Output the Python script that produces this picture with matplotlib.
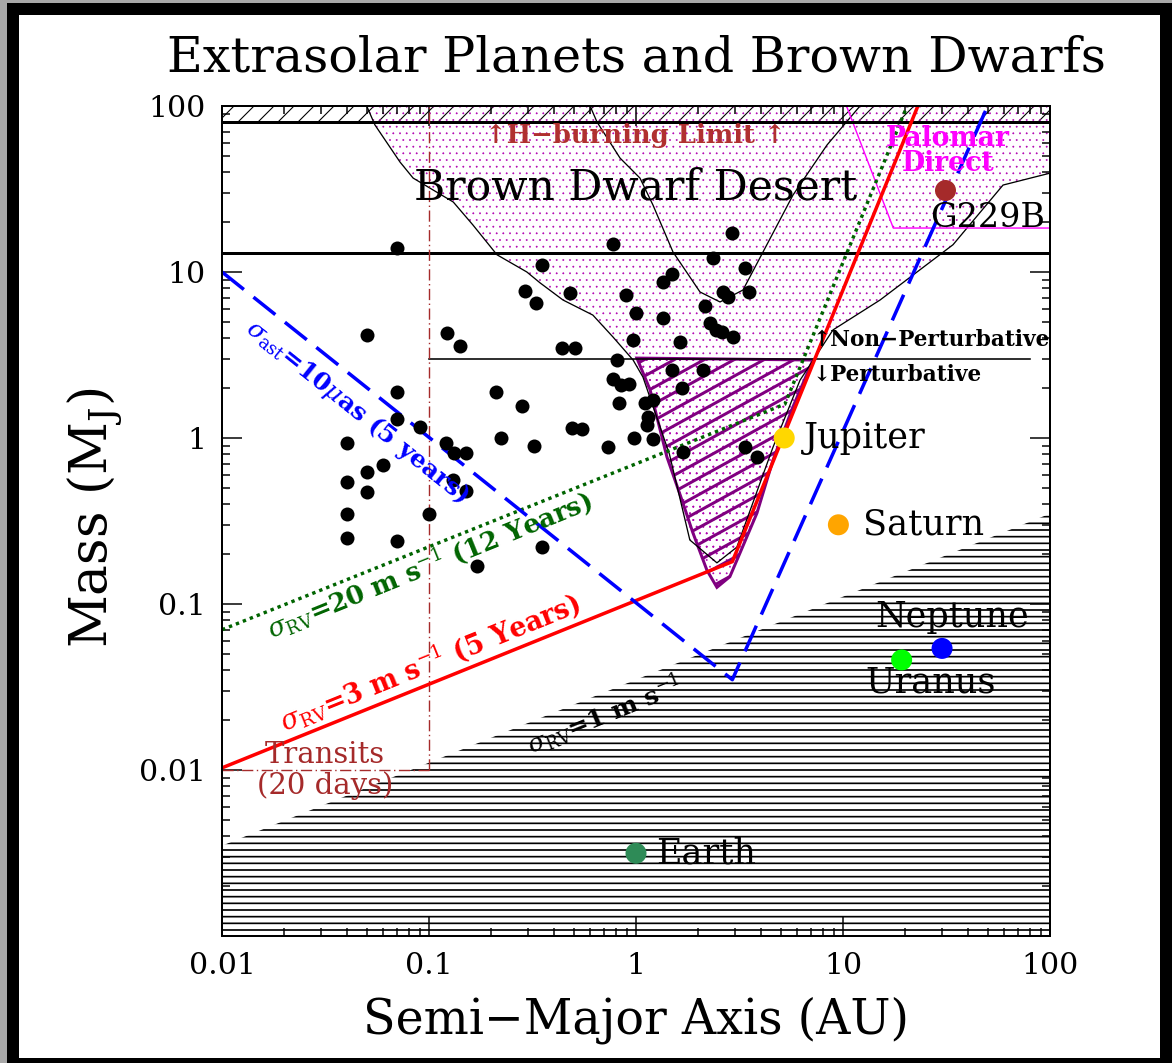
import numpy as np
import matplotlib.pyplot as plt
from matplotlib.collections import LineCollection
from matplotlib.patches import Polygon, Rectangle
from matplotlib.ticker import LogLocator, NullFormatter

plt.rcParams['font.family'] = ['DejaVu Serif', 'DejaVu Sans']
plt.rcParams['mathtext.fontset'] = 'dejavuserif'

DPI = 120
W, H = 1172, 1063

# known companions: semi-major axis (AU) and M sin i (Jupiter masses)
exo_a = [0.050, 0.070, 0.070, 0.090, 0.040, 0.050, 0.060, 0.040, 0.050, 0.040,
         0.040, 0.070, 0.100, 0.121, 0.132, 0.151, 0.131, 0.151, 0.171, 0.351,
         0.122, 0.141, 0.211, 0.281, 0.223, 0.322, 0.49, 0.55, 0.73, 0.98,
         0.29, 0.33, 0.48, 0.44, 0.51, 0.81, 0.77, 0.85, 0.92, 0.83,
         0.89, 1.00, 0.97, 0.070, 0.35, 0.77, 1.11, 1.21, 1.14, 1.13,
         1.21, 1.35, 1.63, 2.15, 2.28, 2.44, 2.60, 2.94, 1.49, 1.67,
         2.11, 1.69, 3.36, 3.84, 2.91, 2.36, 3.36, 1.49, 1.35, 2.63,
         2.78, 3.52]
exo_m = [4.2, 1.9, 1.3, 1.17, 0.93, 0.62, 0.69, 0.54, 0.47, 0.35,
         0.25, 0.24, 0.35, 0.93, 0.81, 0.81, 0.56, 0.48, 0.17, 0.22,
         4.3, 3.6, 1.89, 1.56, 1.0, 0.90, 1.15, 1.13, 0.88, 1.0,
         7.7, 6.5, 7.5, 3.5, 3.5, 2.95, 2.27, 2.09, 2.11, 1.62,
         7.3, 5.7, 3.9, 14.0, 11.0, 14.8, 1.62, 1.69, 1.34, 1.20,
         0.99, 5.3, 3.8, 6.2, 4.9, 4.5, 4.35, 4.06, 2.57, 2.0,
         2.57, 0.82, 0.88, 0.77, 17.2, 12.1, 10.6, 9.7, 8.7, 7.6,
         7.1, 7.6]

# solar system planets
sol_names = ["Jupiter", "Saturn", "Uranus", "Neptune", "Earth"]
sol_a = [5.2, 9.5, 19.2, 30.1, 1.0]
sol_m = [1.0, 0.30, 0.046, 0.054, 0.00315]
sol_colors = ["#ffd700", "#ffa500", "#00ff00", "#0000ff", "#2e8b57"]

g229b_a, g229b_m = 31.0, 31.0

# detection limits
rv3_a, rv3_m = [0.01, 2.92, 23.0], [0.0103, 0.18, 100.0]
rv20_a, rv20_m = [0.01, 5.24, 20.4], [0.070, 1.6, 100.0]
ast_a, ast_m = [0.01, 2.92, 50.0], [10.0, 0.035, 100.0]
rv1_a, rv1_m = [0.01, 100.0], [0.0035, 0.35]

# brown dwarf desert envelope
desert_a = [0.050, 0.0548, 0.0724, 0.0838, 0.131, 0.163, 0.213, 0.297, 0.344,
            0.444, 0.619, 0.774, 0.968, 1.08, 1.45, 1.82, 2.46, 3.07, 4.59,
            6.2, 8.95, 15.1, 34.0, 59.3, 100.0]
desert_m = [100.0, 76.9, 46.0, 36.8, 26.4, 19.2, 12.7, 10.0, 8.6,
            6.78, 5.5, 4.06, 2.95, 2.33, 0.8, 0.243, 0.177, 0.22, 0.88,
            2.23, 4.48, 6.78, 14.6, 33.4, 39.4]

# second survey envelope (V shaped)
vcurve_a = [0.60, 0.648, 0.837, 1.045, 1.208, 1.509, 2.038, 2.546, 3.287,
            4.108, 5.735, 8.37, 12.08]
vcurve_m = [100.0, 80.1, 48.6, 36.8, 25.3, 13.2, 7.58, 6.6, 7.79,
            13.2, 29.1, 58.2, 100.0]

# perturbative region below 3 M_J
wedge_a = [1.01, 1.17, 1.41, 1.67, 1.88, 2.20, 2.46, 2.84, 3.18, 3.84,
           4.59, 5.73, 7.16]
wedge_m = [3.03, 1.95, 0.77, 0.42, 0.27, 0.16, 0.126, 0.146, 0.203, 0.353,
           0.736, 1.54, 2.95]

palomar_a = [10.4, 17.5, 100.0, 100.0]
palomar_m = [100.0, 18.4, 18.4, 100.0]

h_burning = 80.0
deuterium = 13.0
perturb_m = 3.0
perturb_a = [0.1, 80.0]
transit_a = 0.1
transit_m = 0.01


def px(v):
    return v * 72.0 / DPI


def hatched(ax, xy, hatch, color, hlw, z):
    with plt.rc_context({'hatch.linewidth': hlw}):
        p = Polygon(xy, closed=True, facecolor='none', edgecolor=color,
                    hatch=hatch, linewidth=0, zorder=z)
    if hasattr(p, 'set_hatch_linewidth'):
        p.set_hatch_linewidth(hlw)
    ax.add_patch(p)
    return p


def screen_angle(ax, a0, m0, a1, m1):
    p0 = ax.transData.transform((a0, m0))
    p1 = ax.transData.transform((a1, m1))
    return np.degrees(np.arctan2(p1[1] - p0[1], p1[0] - p0[0]))


fig = plt.figure(figsize=(W / DPI, H / DPI), dpi=DPI)
fig.patch.set_facecolor('black')
fig.patches.append(Rectangle((0, 1 - 3 / H), 1, 3 / H, transform=fig.transFigure,
                             facecolor='#a8a8a8', edgecolor='none', zorder=-3))
fig.patches.append(Rectangle((0, 0), 7 / W, 1, transform=fig.transFigure,
                             facecolor='#a8a8a8', edgecolor='none', zorder=-3))
fig.patches.append(Rectangle((19 / W, 5 / H), 1141 / W, 1043 / H,
                             transform=fig.transFigure, facecolor='white',
                             edgecolor='none', zorder=-2))

ax = fig.add_axes([222 / W, 1 - 936 / H, 828 / W, 830 / H])
ax.set_facecolor('none')
ax.set_xscale('log')
ax.set_yscale('log')
ax.set_xlim(0.01, 100)
ax.set_ylim(0.001, 100)

# 1 m/s radial velocity exclusion, horizontal hatching
hatched(ax, [(rv1_a[0], 0.001), (rv1_a[0], rv1_m[0]), (rv1_a[1], rv1_m[1]),
             (rv1_a[1], 0.001)], '---', 'black', px(1.7), 1)

# stellar mass band above the hydrogen burning limit
hatched(ax, [(0.01, h_burning), (0.01, 100), (100, 100), (100, h_burning)],
        '//', 'black', px(1.1), 1.2)

# brown dwarf desert stipple
desert_xy = list(zip(desert_a, desert_m)) + [(100, 100)]
hatched(ax, desert_xy, '...', '#b000b0', px(0.5), 1.5)
wedge_xy = list(zip(wedge_a, wedge_m))
hatched(ax, wedge_xy, '...', '#b000b0', px(0.5), 1.5)

# perturbative wedge: slanted purple hatching clipped to the outline
wedge = Polygon(wedge_xy, closed=True, facecolor='none', edgecolor='#800080',
                linewidth=px(3.0), zorder=1.7)
ax.add_patch(wedge)
slope = 0.55
step = 16.5 / 830
hatch_segs = [[(0, c), (1, c + slope)] for c in np.arange(-0.6, 1.0, step)]
wedge_lines = LineCollection(hatch_segs, transform=ax.transAxes, colors='#800080',
                             linewidths=px(3.0), zorder=1.6)
wedge_lines.set_clip_path(wedge)
ax.add_collection(wedge_lines)

ax.plot(desert_a, desert_m, color='black', lw=px(1.3), zorder=2)
ax.plot(vcurve_a, vcurve_m, color='black', lw=px(1.3), zorder=2)
ax.plot(palomar_a, palomar_m, color='#ff00ff', lw=px(1.4), zorder=2)

ax.axhline(h_burning, color='black', lw=px(3), zorder=2.2)
ax.axhline(deuterium, color='black', lw=px(3), zorder=2.2)
ax.plot(perturb_a, [perturb_m, perturb_m], color='black', lw=px(1.6), zorder=2.2)

# transit box
ax.plot([transit_a, transit_a], [transit_m, 100], color='#a52a2a', lw=px(1.4),
        dashes=(8, 2.5, 1, 2.5), zorder=2.3)
ax.plot([0.01, transit_a], [transit_m, transit_m], color='#a52a2a', lw=px(1.4),
        dashes=(8, 2.5, 1, 2.5), zorder=2.3)

ax.plot(rv20_a, rv20_m, color='#006400', lw=px(3.4), dashes=(1, 1.2), zorder=3)
ax.plot(rv3_a, rv3_m, color='#ff0000', lw=px(3.5), zorder=3.1)
ax.plot(ast_a, ast_m, color='#0000ff', lw=px(3.5), dashes=(8, 3.5), zorder=3.2)

ax.scatter(exo_a, exo_m, s=px(14) ** 2, color='black', zorder=4, linewidths=0)
ax.scatter(sol_a, sol_m, s=px(21) ** 2, c=sol_colors, zorder=4, linewidths=0)
ax.scatter([g229b_a], [g229b_m], s=px(21) ** 2, color='#a52a2a', zorder=4,
           linewidths=0)

planet_offsets = {"Jupiter": (20, 0, 'left'), "Saturn": (25, 0, 'left'),
                  "Uranus": (29, -23, 'center'), "Neptune": (10, 31, 'center'),
                  "Earth": (20, 0, 'left')}
for name, a, m in zip(sol_names, sol_a, sol_m):
    dx, dy, ha = planet_offsets[name]
    ax.annotate(name, (a, m), xytext=(px(dx), px(dy)), textcoords='offset points',
                ha=ha, va='center', fontsize=21, zorder=5)
ax.annotate("G229B", (g229b_a, g229b_m), xytext=(px(-15), px(-28)),
            textcoords='offset points', ha='left', va='center', fontsize=20,
            zorder=5)

ax.text(1.0, 32.5, "Brown Dwarf Desert", ha='center', va='center', fontsize=25.5,
        zorder=5)
ax.text(0.99, 66.8, "↑H−burning Limit ↑", ha='center', va='center', fontsize=15.5,
        fontweight='bold', color='#b03030', zorder=5)
ax.text(32.1, 53.6, "Palomar\nDirect", ha='center', va='center', fontsize=16,
        fontweight='bold', color='#ff00ff', linespacing=0.9, zorder=5)
ax.text(7.08, 3.89, "↑Non−Perturbative", ha='left', va='center', fontsize=13,
        fontweight='bold', zorder=5)
ax.text(7.08, 2.40, "↓Perturbative", ha='left', va='center', fontsize=13,
        fontweight='bold', zorder=5)
ax.text(0.0315, 0.0123, "Transits", ha='center', va='center', fontsize=17.5,
        color='#a52a2a', zorder=5)
ax.text(0.0315, 0.0080, "(20 days)", ha='center', va='center', fontsize=17.5,
        color='#a52a2a', zorder=5)

ang_ast = screen_angle(ax, ast_a[0], ast_m[0], ast_a[1], ast_m[1])
ang_rv = screen_angle(ax, rv3_a[0], rv3_m[0], rv3_a[1], rv3_m[1])
ax.text(0.0449, 1.435, r"$\sigma_{\rm ast}$=10$\mu$as (5 years)", rotation=ang_ast,
        rotation_mode='anchor', ha='center', va='center', fontsize=15,
        fontweight='bold', color='#0000ff', zorder=5)
ax.text(0.101, 0.17, r"$\sigma_{\rm RV}$=20 m s$^{-1}$ (12 Years)", rotation=ang_rv,
        rotation_mode='anchor', ha='center', va='center', fontsize=15.5,
        fontweight='bold', color='#006400', zorder=5)
ax.text(0.101, 0.0442, r"$\sigma_{\rm RV}$=3 m s$^{-1}$ (5 Years)", rotation=ang_rv,
        rotation_mode='anchor', ha='center', va='center', fontsize=16,
        fontweight='bold', color='#ff0000', zorder=5)
ax.text(0.708, 0.0214, r"$\sigma_{\rm RV}$=1 m s$^{-1}$", rotation=ang_rv,
        rotation_mode='anchor', ha='center', va='center', fontsize=15,
        fontweight='bold', color='black', zorder=5)

ticks = [0.01, 0.1, 1, 10, 100]
tick_labels = ['0.01', '0.1', '1', '10', '100']
ax.set_xticks(ticks, labels=tick_labels)
ax.set_yticks(ticks, labels=tick_labels)
for axis in (ax.xaxis, ax.yaxis):
    axis.set_minor_locator(LogLocator(base=10, subs=np.arange(2, 10)))
    axis.set_minor_formatter(NullFormatter())
ax.set_xlim(0.01, 100)
ax.set_ylim(0.001, 100)
ax.tick_params(which='both', direction='in', top=True, right=True,
               width=px(1.5), labelsize=18)
ax.tick_params(which='major', length=px(20), pad=px(16))
ax.tick_params(which='minor', length=px(8))
for sp in ax.spines.values():
    sp.set_linewidth(px(2))
    sp.set_zorder(6)

fig.text(636 / W, 1 - 58 / H, "Extrasolar Planets and Brown Dwarfs", ha='center',
         va='center', fontsize=29.5)
fig.text(636 / W, 1 - 1020 / H, "Semi−Major Axis (AU)", ha='center', va='center',
         fontsize=28.5)
fig.text(95 / W, 1 - 518 / H, r"Mass (M$_{\rm J}$)", ha='center', va='center',
         rotation=90, fontsize=31)

fig.savefig("out.png", dpi=DPI, facecolor=fig.get_facecolor())
